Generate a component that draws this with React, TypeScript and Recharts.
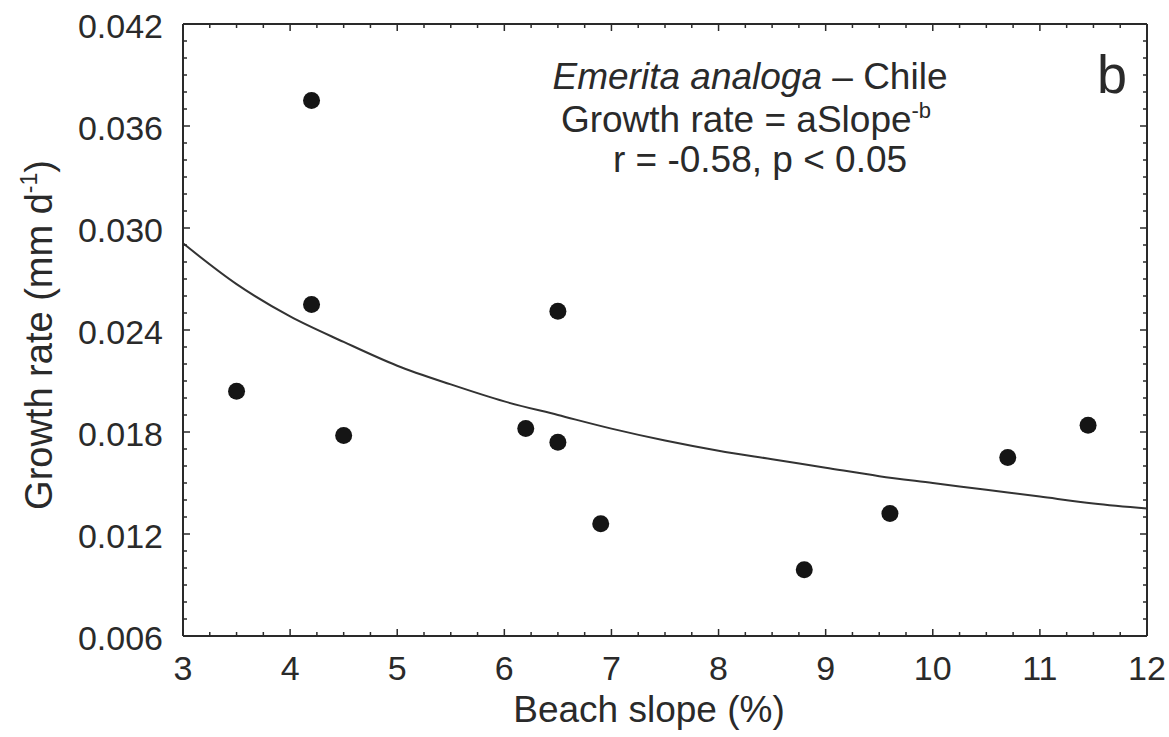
import React from "react";
import { ComposedChart, Scatter, Line, XAxis, YAxis } from "recharts";

// observed beaches: slope (%) vs growth rate (mm/d)
const slopeX = [3.5, 4.2, 4.2, 4.5, 6.2, 6.5, 6.5, 6.9, 8.8, 9.6, 10.7, 11.45];
const growthY = [0.0204, 0.0375, 0.0255, 0.0178, 0.0182, 0.0251, 0.0174, 0.0126, 0.0099, 0.0132, 0.0165, 0.0184];

// fitted power curve
const fitX = [3, 3.5, 4, 4.5, 5, 5.5, 6, 6.5, 7, 7.5, 8, 8.5, 9, 9.5, 10, 10.5, 11, 11.5, 12];
const fitY = [0.0291, 0.0267, 0.0248, 0.0233, 0.0219, 0.0208, 0.0198, 0.019, 0.0182, 0.0175, 0.0169, 0.0164, 0.0159, 0.0154, 0.015, 0.0146, 0.0142, 0.0138, 0.0135];

const xTickLabels = [3, 4, 5, 6, 7, 8, 9, 10, 11, 12];
const yTickLabels = [0.006, 0.012, 0.018, 0.024, 0.03, 0.036, 0.042];

const X_MIN = 3;
const X_MAX = 12;
const Y_MIN = 0.006;
const Y_MAX = 0.042;

const points = slopeX.map((x, i) => ({ x, rate: growthY[i] }));
const fit = fitX.map((x, i) => ({ x, fitRate: fitY[i] }));

// minor ticks every 0.25 on x and 0.001 on y
const xTicks = Array.from({ length: 37 }, (_, i) => 3 + i * 0.25);
const yTicks = Array.from({ length: 37 }, (_, i) => (6 + i) / 1000);

const CHART_W = 1169;
const CHART_H = 737;
const MARGIN = { top: 24, right: 22, bottom: 0, left: 0 };
// plot box edges that have no axis of their own
const PLOT_TOP = MARGIN.top;
const PLOT_RIGHT = CHART_W - MARGIN.right;

const INK = "#2a2a2a";
const FONT = "'Liberation Sans', Arial, Helvetica, sans-serif";

const isMajorX = (v: number) => xTickLabels.some((t) => Math.abs(t - v) < 1e-6);
const isMajorY = (v: number) => yTickLabels.some((t) => Math.abs(t - v) < 1e-7);

// bottom tick + mirrored top tick; the last one also closes the right edge
function XTick(props: any) {
  const { x, y, payload } = props;
  const v = payload.value;
  const major = isMajorX(v);
  const len = major ? 7 : 4;
  return (
    <g>
      <line x1={x} x2={x} y1={y} y2={y - len} stroke={INK} strokeWidth={1.5} />
      <line x1={x} x2={x} y1={PLOT_TOP} y2={PLOT_TOP + len} stroke={INK} strokeWidth={1.5} />
      {Math.abs(v - X_MAX) < 1e-6 && (
        <line x1={x} x2={x} y1={y} y2={PLOT_TOP} stroke={INK} strokeWidth={2} />
      )}
      {major && (
        <text x={x} y={y + 44} textAnchor="middle" fontSize={34} fill={INK} fontFamily={FONT}>
          {Math.round(v)}
        </text>
      )}
    </g>
  );
}

// left tick + mirrored right tick; the top one also closes the top edge
function YTick(props: any) {
  const { x, y, payload } = props;
  const v = payload.value;
  const major = isMajorY(v);
  const len = major ? 7 : 4;
  return (
    <g>
      <line x1={x} x2={x + len} y1={y} y2={y} stroke={INK} strokeWidth={1.5} />
      <line x1={PLOT_RIGHT} x2={PLOT_RIGHT - len} y1={y} y2={y} stroke={INK} strokeWidth={1.5} />
      {Math.abs(v - Y_MAX) < 1e-7 && (
        <line x1={x} x2={PLOT_RIGHT} y1={y} y2={y} stroke={INK} strokeWidth={2} />
      )}
      {major && (
        <text x={x - 20} y={y + 14} textAnchor="end" fontSize={34} fill={INK} fontFamily={FONT}>
          {v.toFixed(3)}
        </text>
      )}
    </g>
  );
}

function XTitle(props: any) {
  const { viewBox } = props;
  const cx = viewBox.x + viewBox.width / 2 - 16;
  return (
    <text x={cx} y={viewBox.y + 86} textAnchor="middle" fontSize={37} fill={INK} fontFamily={FONT}>
      Beach slope (%)
    </text>
  );
}

function YTitle(props: any) {
  const { viewBox } = props;
  const cx = 52;
  const cy = viewBox.y + viewBox.height / 2 + 5;
  return (
    <text
      x={cx}
      y={cy}
      transform={`rotate(-90 ${cx} ${cy})`}
      textAnchor="middle"
      fontSize={38}
      fill={INK}
      fontFamily={FONT}
    >
      Growth rate (mm d
      <tspan fontSize={23} dy={-15}>-1</tspan>
      <tspan dy={15}>)</tspan>
    </text>
  );
}

export default function App() {
  return (
    <div style={{ position: "absolute", left: 0, top: 0, width: CHART_W, height: CHART_H, background: "#fff" }}>
      <ComposedChart width={CHART_W} height={CHART_H} margin={MARGIN}>
        <XAxis
          type="number"
          dataKey="x"
          domain={[X_MIN, X_MAX]}
          ticks={xTicks}
          interval={0}
          height={101}
          tickSize={0}
          tickMargin={0}
          tickLine={false}
          axisLine={{ stroke: INK, strokeWidth: 2 }}
          tick={(p: any) => <XTick {...p} />}
          label={<XTitle />}
        />
        <YAxis
          type="number"
          domain={[Y_MIN, Y_MAX]}
          ticks={yTicks}
          interval={0}
          width={183}
          tickSize={0}
          tickMargin={0}
          tickLine={false}
          axisLine={{ stroke: INK, strokeWidth: 2 }}
          tick={(p: any) => <YTick {...p} />}
          label={<YTitle />}
        />
        <Line
          name="fit"
          data={fit}
          dataKey="fitRate"
          type="monotone"
          stroke="#333"
          strokeWidth={2}
          dot={false}
          isAnimationActive={false}
        />
        <Scatter
          name="beaches"
          data={points}
          dataKey="rate"
          fill="#151515"
          isAnimationActive={false}
          shape={(p: any) => <circle cx={p.cx} cy={p.cy} r={8.5} fill="#151515" />}
        />
      </ComposedChart>
      <svg
        width={CHART_W}
        height={CHART_H}
        style={{ position: "absolute", left: 0, top: 0, pointerEvents: "none" }}
        fontFamily={FONT}
        fill={INK}
      >
        <text x={750} y={89} textAnchor="middle" fontSize={37}>
          <tspan fontStyle="italic">Emerita analoga</tspan> – Chile
        </text>
        <text x={746} y={132} textAnchor="middle" fontSize={37}>
          Growth rate = aSlope<tspan fontSize={22} dy={-14}>-b</tspan>
        </text>
        <text x={760} y={172} textAnchor="middle" fontSize={37}>
          r = -0.58, p &lt; 0.05
        </text>
        <text x={1112} y={93} textAnchor="middle" fontSize={54}>
          b
        </text>
      </svg>
    </div>
  );
}
